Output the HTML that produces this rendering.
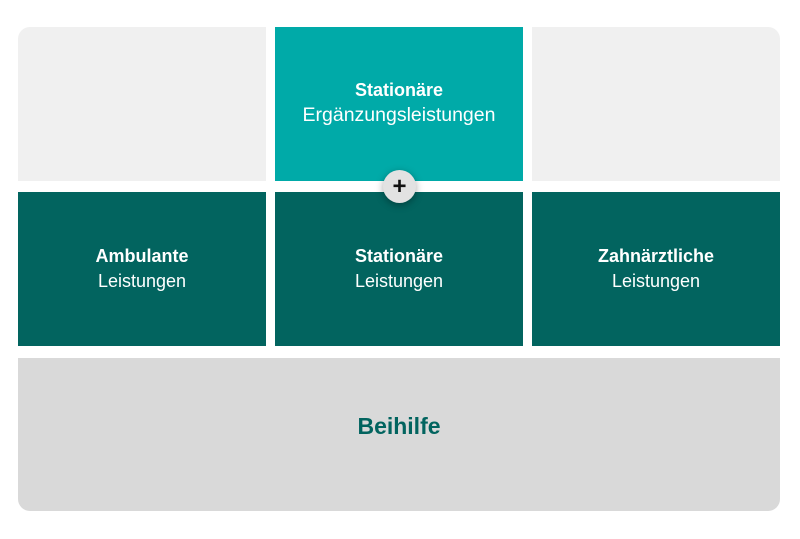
<!DOCTYPE html>
<html><head><meta charset="utf-8"><style>
html,body{margin:0;padding:0;background:#fff;width:800px;height:539px;overflow:hidden;font-family:"Liberation Sans",sans-serif;}
.b{position:absolute;display:flex;flex-direction:column;align-items:center;justify-content:center;color:#fff;text-align:center;}
.t{font-weight:bold;font-size:18px;line-height:25px;}
.s{font-size:18px;line-height:25px;}
</style></head><body>
<div class="b" style="left:18px;top:27px;width:248px;height:154px;background:#f0f0f0;border-top-left-radius:12px;"></div>
<div class="b" style="left:275px;top:27px;width:248px;height:154px;background:#00aaa8;padding-bottom:2px;box-sizing:border-box;"><div class="t">Stationäre</div><div class="s" style="font-size:19.5px;">Ergänzungsleistungen</div></div>
<div class="b" style="left:532px;top:27px;width:248px;height:154px;background:#f0f0f0;border-top-right-radius:12px;"></div>
<div class="b" style="left:18px;top:192px;width:248px;height:154px;background:#02645f;"><div class="t">Ambulante</div><div class="s">Leistungen</div></div>
<div class="b" style="left:275px;top:192px;width:248px;height:154px;background:#02645f;"><div class="t">Stationäre</div><div class="s">Leistungen</div></div>
<div class="b" style="left:532px;top:192px;width:248px;height:154px;background:#02645f;"><div class="t">Zahnärztliche</div><div class="s">Leistungen</div></div>
<div class="b" style="left:18px;top:358px;width:762px;height:153px;background:#d9d9d9;border-bottom-left-radius:12px;border-bottom-right-radius:12px;color:#02645f;padding-bottom:16px;box-sizing:border-box;"><div style="font-weight:bold;font-size:23px;">Beihilfe</div></div>
<div style="position:absolute;left:383px;top:170px;width:33px;height:33px;border-radius:50%;background:#e2e2e2;box-shadow:0 2px 8px rgba(0,0,0,0.35);display:flex;align-items:center;justify-content:center;font:bold 24px 'Liberation Sans',sans-serif;color:#111;line-height:1;">+</div>
</body></html>
